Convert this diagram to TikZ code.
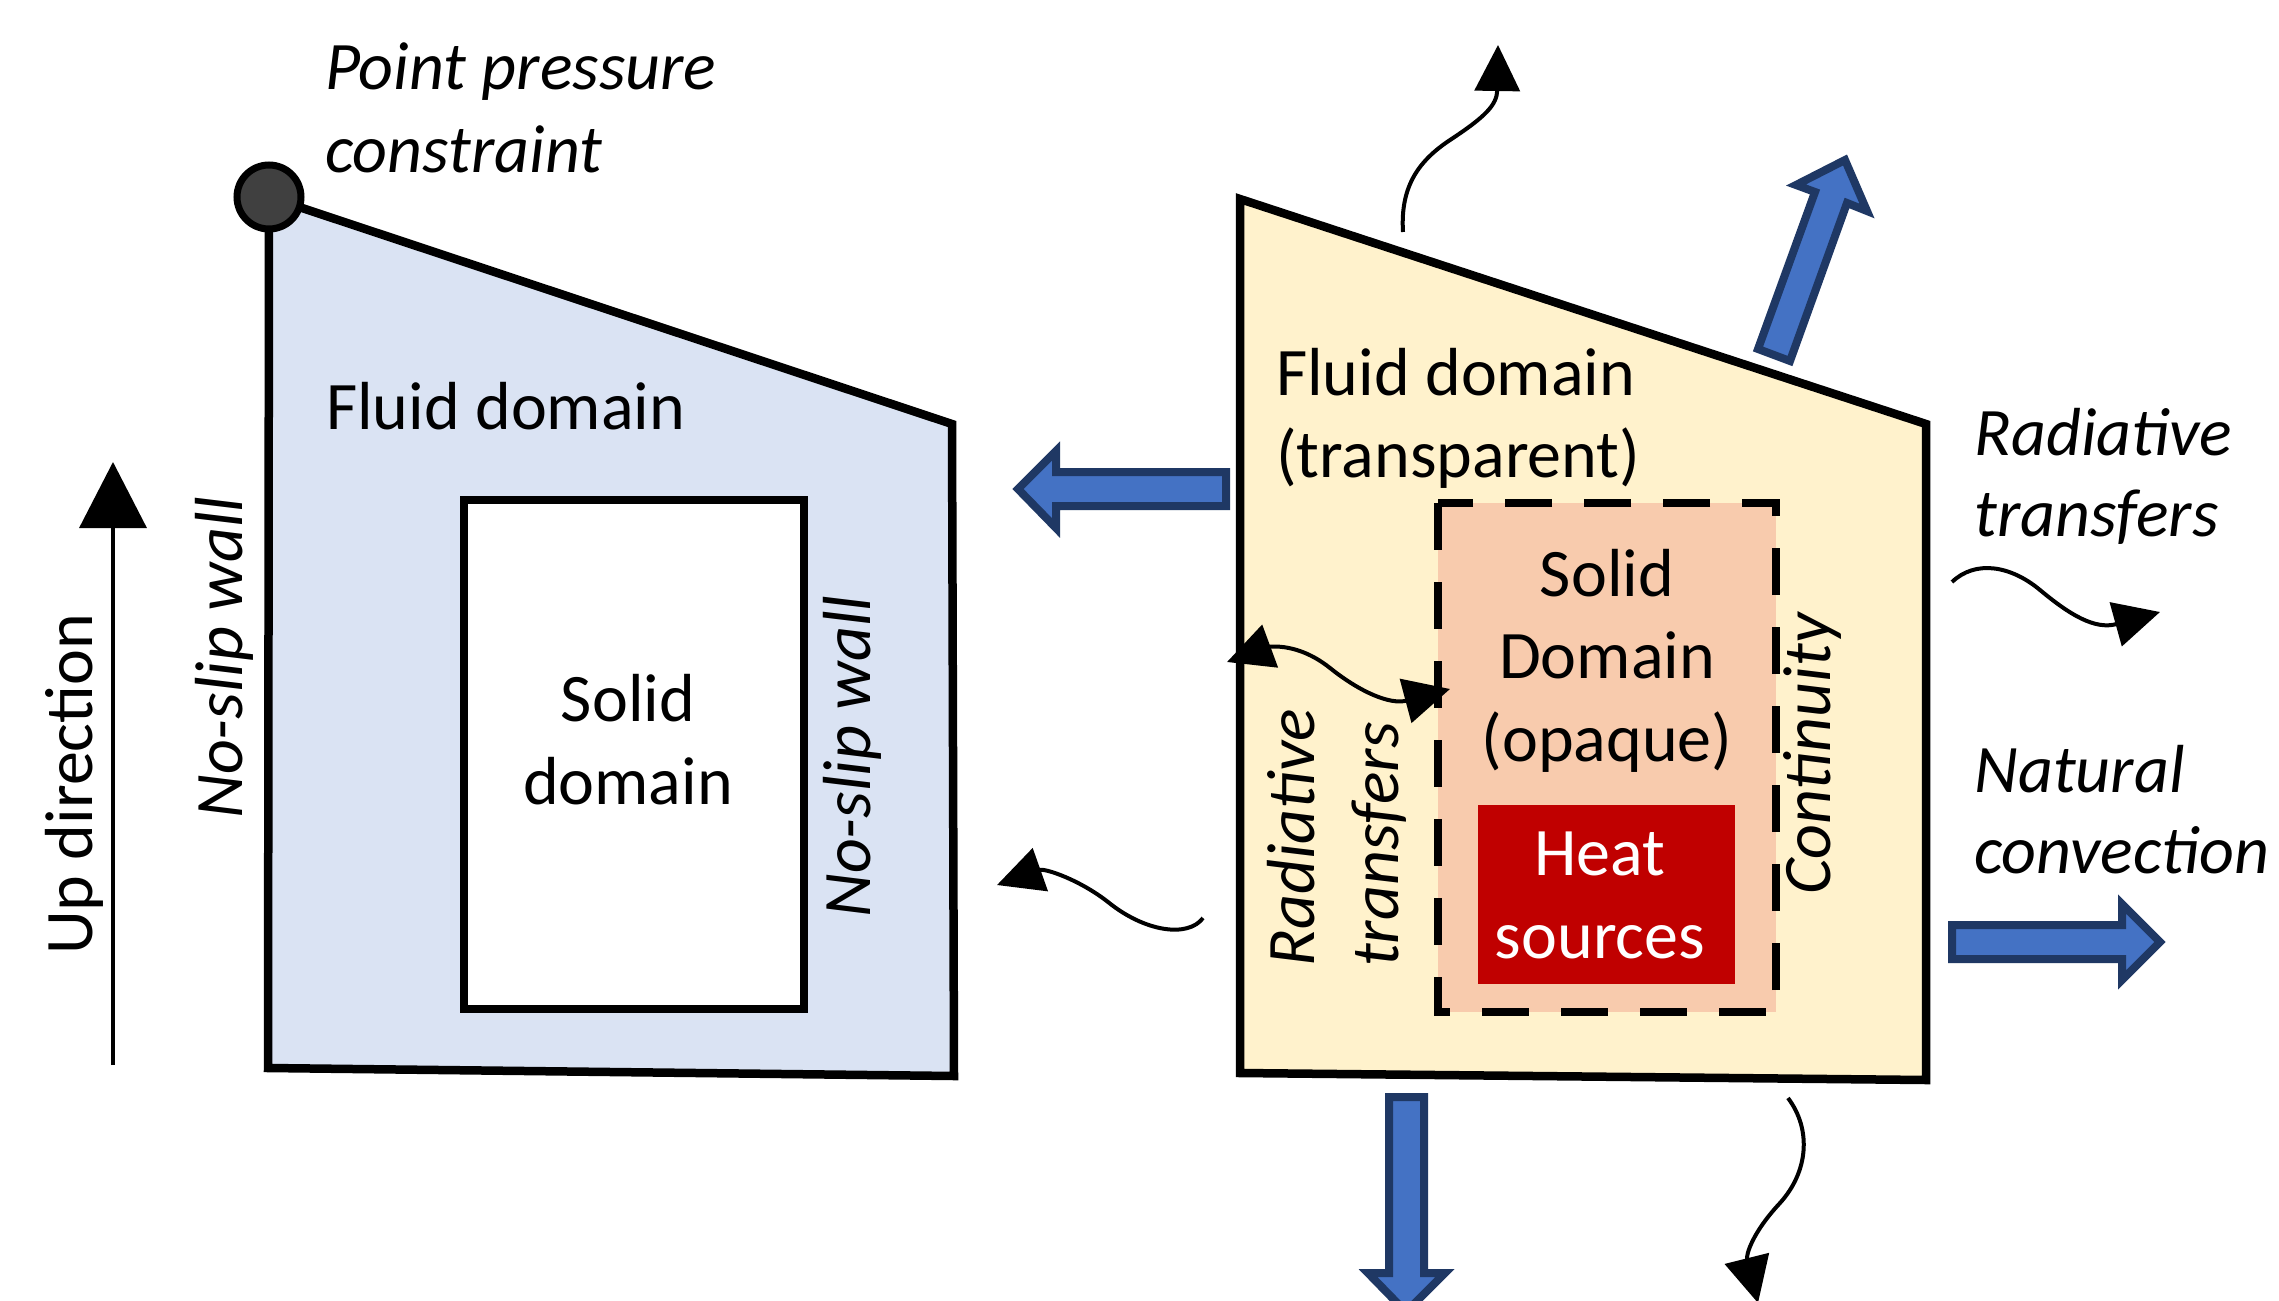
\documentclass[tikz,border=0pt]{standalone}
\usepackage{fontspec}
\setmainfont{Carlito}
\usetikzlibrary{arrows.meta}
\definecolor{fluidblue}{HTML}{DAE3F3}
\definecolor{fluidyellow}{HTML}{FFF2CC}
\definecolor{solidpeach}{HTML}{F8CBAD}
\definecolor{heatred}{HTML}{C00000}
\definecolor{arrowblue}{HTML}{4472C4}
\definecolor{arrowborder}{HTML}{1F3864}
\definecolor{dotgray}{HTML}{404040}
\tikzset{
  outline/.style={draw=black, line width=8.5pt, line join=miter},
  lbl/.style={font=\fontsize{68}{82}\selectfont, inner sep=0pt, anchor=base west},
  lblc/.style={font=\fontsize{68}{82}\selectfont, inner sep=0pt, anchor=base},
  wave/.style={draw=black, line width=4pt},
  blockarrow/.style={fill=arrowblue, draw=arrowborder, line width=8pt, line join=miter},
}
\begin{document}
\begin{tikzpicture}[x=1pt, y=-1pt, >={Triangle[length=46pt,width=45pt]}]
\path[fill=white, use as bounding box] (0,0) rectangle (2279,1301);

% ---------- left domain ----------
\draw[outline, fill=fluidblue] (269,197) -- (952,424) -- (954,1076) -- (268,1068) -- cycle;
\draw[outline, fill=white] (464,500) rectangle (804,1009);
\node[circle, draw=black, fill=dotgray, line width=7pt, minimum size=64pt, inner sep=0pt] (ppc) at (269,197) {};

\node[lbl] (pp1) at (325,89) {\itshape Point pressure};
\node[lbl] (pp2) at (325,172) {\itshape constraint};
\node[lbl] (lfluid) at (326,429) {Fluid domain};
\node[lblc] (lsolid1) at (628,721) {Solid};
\node[lblc] (lsolid2) at (628,804) {domain};
\node[lbl, rotate=90] (nsw1) at (242,819) {\itshape No-slip wall};
\node[lbl, rotate=90] (nsw2) at (870,918) {\itshape No-slip wall};
\node[lbl, rotate=90] (updir) at (92,955) {Up direction};

\coordinate (upS) at (113,1065);
\coordinate (upE) at (113,462);
\draw[line width=3.5pt, -{Triangle[length=66pt,width=67pt]}] (upS) -- (upE);

% ---------- right domain ----------
\draw[outline, fill=fluidyellow] (1240,199) -- (1926,424) -- (1926,1080) -- (1240,1073) -- cycle;
\draw[fill=solidpeach, draw=black, line width=8.5pt, dash pattern=on 47pt off 32pt] (1438,503) rectangle (1776,1012);
\fill[heatred] (1478,805) rectangle (1735,984);

\node[lbl] (rfluid1) at (1276,395) {Fluid domain};
\node[lbl] (rfluid2) at (1276,477) {(transparent)};
\node[lblc] (rsolid1) at (1607,596) {Solid};
\node[lblc] (rsolid2) at (1607,678) {Domain};
\node[lblc] (rsolid3) at (1607,761) {(opaque)};
\node[lblc, text=white] (heat1) at (1600,875) {Heat};
\node[lblc, text=white] (heat2) at (1600,958) {sources};
\node[lbl, rotate=90] (cont) at (1830,895) {\itshape Continuity};
\node[lbl, rotate=90] (irt1) at (1314,967) {\itshape Radiative};
\node[lbl, rotate=90] (irt2) at (1398,967) {\itshape transfers};
\node[lbl] (ort1) at (1974,455) {\itshape Radiative};
\node[lbl] (ort2) at (1974,536) {\itshape transfers};
\node[lbl] (nc1) at (1974,792) {\itshape Natural};
\node[lbl] (nc2) at (1974,873) {\itshape convection};

% ---------- block arrows ----------
\draw[blockarrow] (1226,472) -- (1056,472) -- (1056,451) -- (1018,489) -- (1056,528) -- (1056,506) -- (1226,506) -- cycle;
\draw[blockarrow] (1952,925) -- (2122,925) -- (2122,904) -- (2160,942) -- (2122,980) -- (2122,959) -- (1952,959) -- cycle;
\draw[blockarrow] (1389,1097) -- (1389,1273) -- (1368,1273) -- (1406,1312) -- (1445,1273) -- (1424,1273) -- (1424,1097) -- cycle;
\draw[blockarrow] (1758,349) -- (1815,192) -- (1796,185) -- (1845,160) -- (1867,211) -- (1847,203) -- (1790,361) -- cycle;

% ---------- wavy radiation arrows ----------
\coordinate (w1s) at (1403,232);
\coordinate (w1e) at (1498,45);
\draw[wave, ->] (w1s) .. controls (1400,185) and (1420,160) .. (1450,140) .. controls (1485,117) and (1497,105) .. (w1e);

\coordinate (w2s) at (1952,582);
\coordinate (w2e) at (2160,612);
\draw[wave, ->] (w2s) .. controls (1975,560) and (2010,565) .. (2040,590) .. controls (2070,615) and (2095,630) .. (w2e);

\coordinate (w3s) at (1203,918);
\coordinate (w3e) at (997,885);
\draw[wave, ->] (w3s) .. controls (1188,938) and (1145,932) .. (1108,902) .. controls (1080,880) and (1045,868) .. (w3e);

\coordinate (w4s) at (1227,662);
\coordinate (w4e) at (1450,689);
\draw[wave, <->] (w4s) .. controls (1265,648) and (1295,640) .. (1330,668) .. controls (1360,692) and (1390,705) .. (w4e);

\coordinate (w5s) at (1788,1098);
\coordinate (w5e) at (1758,1303);
\draw[wave, ->] (w5s) .. controls (1812,1130) and (1808,1172) .. (1780,1203) .. controls (1752,1233) and (1746,1255) .. (w5e);
\end{tikzpicture}
\end{document}
